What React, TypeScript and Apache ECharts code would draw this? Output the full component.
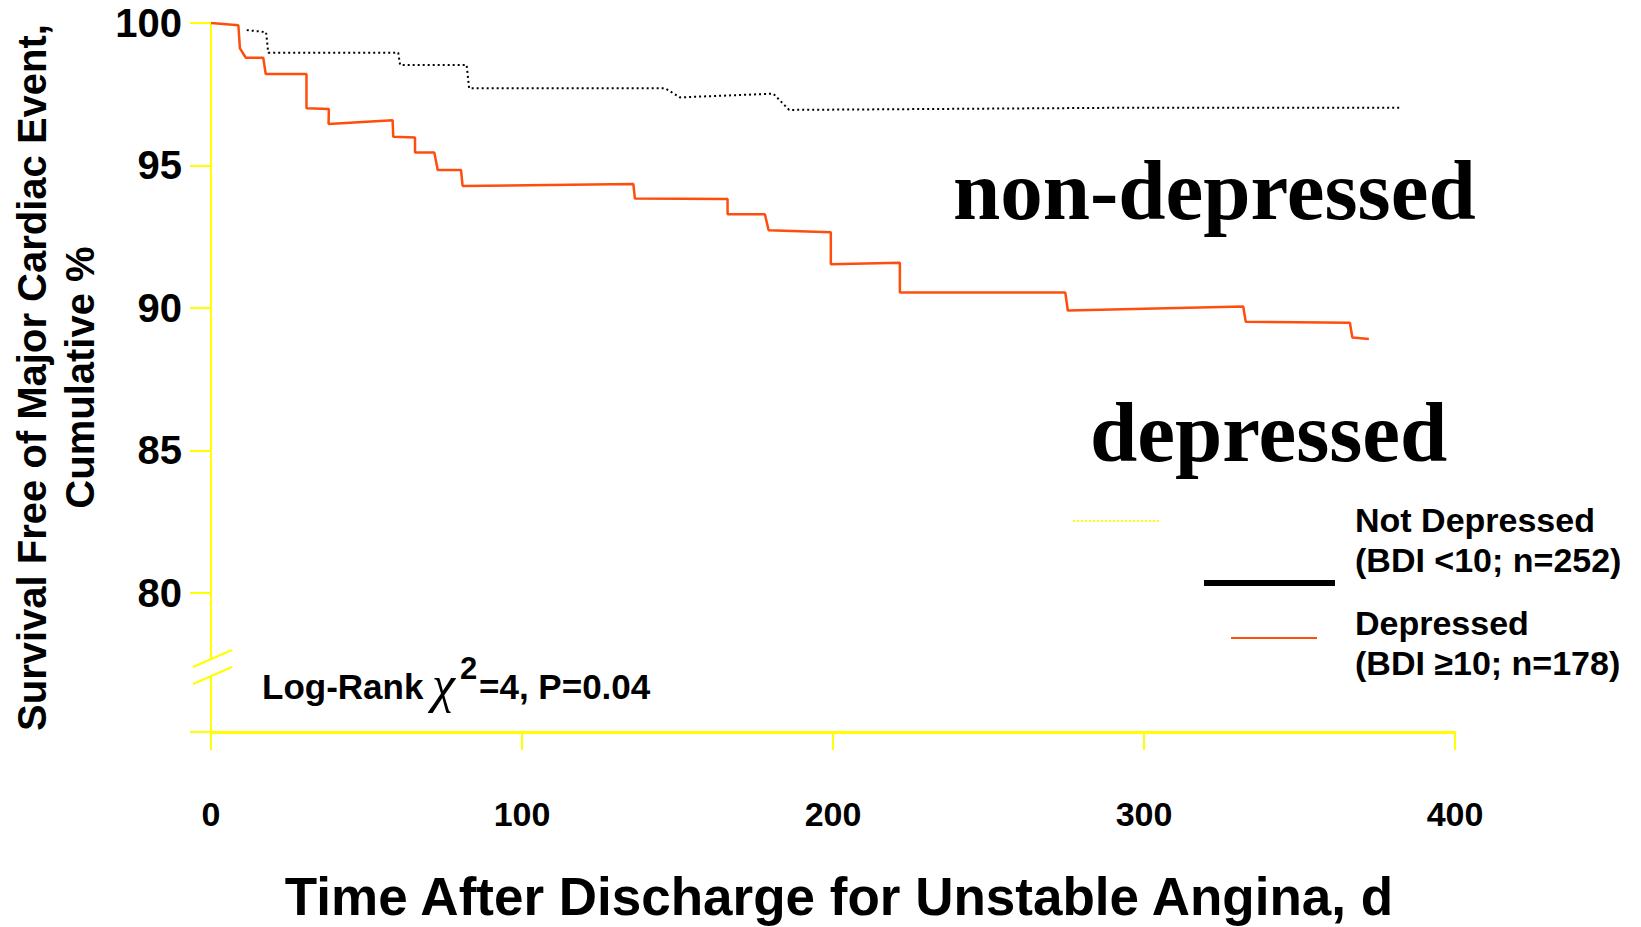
import React, { useEffect, useRef } from "react";
import * as echarts from "echarts";

// ---- data ----
const xTicks = [0, 100, 200, 300, 400];
const yTicks = [80, 85, 90, 95, 100];
const Y_MIN = 75.12; // bottom of the (broken) y axis

// Not depressed (BDI <10; n=252)
const notDepDays = [11.5, 17.7, 18.4, 60.2, 60.8, 82.2, 83.0, 146.0, 150.8, 180.8, 185.9, 298.7, 382.9];
const notDepSurv = [99.75, 99.68, 98.96, 98.96, 98.53, 98.53, 97.71, 97.71, 97.39, 97.52, 96.95, 97.03, 97.03];

// Depressed (BDI >=10; n=178)
const depDays = [0, 8.8, 9.3, 11.2, 16.8, 17.6, 30.7, 30.7, 37.9, 37.8, 58.4, 58.6, 65.6, 65.6, 71.8, 72.9, 80.4, 80.9, 135.8, 136.3, 166.1, 166.1, 178.1, 179.3, 199.3, 199.3, 221.5, 221.5, 274.7, 275.5, 331.9, 332.7, 366.2, 367.0, 372.3];
const depSurv = [100, 99.92, 99.11, 98.78, 98.78, 98.21, 98.21, 97.01, 96.98, 96.46, 96.59, 96.01, 95.98, 95.46, 95.46, 94.84, 94.84, 94.28, 94.35, 93.84, 93.82, 93.29, 93.29, 92.73, 92.66, 91.53, 91.59, 90.54, 90.54, 89.91, 90.05, 89.52, 89.48, 88.96, 88.91];

const legendLines = ["Not Depressed", "(BDI <10; n=252)", "Depressed", "(BDI \u226510; n=178)"];

// ---- styles ----
const SANS = "'Liberation Sans', Arial, Helvetica, sans-serif";
const SERIF = "'Liberation Serif', 'Times New Roman', serif";
const YELLOW = "#FFFF00";
const ORANGE = "#FF4D0D";

function sansText(text: string, x: number, y: number, size: number) {
  return {
    type: "text",
    x,
    y,
    z: 110,
    style: {
      text,
      fontSize: size,
      fontWeight: "bold",
      fontFamily: SANS,
      fill: "#000",
      align: "left",
      verticalAlign: "middle",
    },
  };
}

export default function App() {
  const ref = useRef<HTMLDivElement>(null);

  useEffect(() => {
    if (!ref.current) return;
    const chart = echarts.init(ref.current, null, { renderer: "svg" });

    const option: any = {
      animation: false,
      backgroundColor: "#ffffff",
      grid: { left: 211, right: 186, top: 23, bottom: 195, containLabel: false, outerBoundsMode: "none" },
      xAxis: {
        type: "value",
        min: xTicks[0],
        max: xTicks[xTicks.length - 1],
        interval: 100,
        name: "Time After Discharge for Unstable Angina, d",
        nameLocation: "middle",
        nameGap: 138,
        nameTextStyle: { fontSize: 53, fontWeight: "bold", color: "#000", fontFamily: SANS, padding: [0, 0, 0, 12] },
        axisLine: { show: true, onZero: false, lineStyle: { color: YELLOW, width: 3 } },
        axisTick: { show: true, length: 18, lineStyle: { color: YELLOW, width: 2 } },
        axisLabel: { fontSize: 34, fontWeight: "bold", color: "#000", margin: 65, fontFamily: SANS },
        splitLine: { show: false },
      },
      yAxis: {
        type: "value",
        min: Y_MIN,
        max: 100,
        name: "Survival Free of Major Cardiac Event,\nCumulative %",
        nameLocation: "middle",
        nameGap: 105,
        nameRotate: 90,
        nameTextStyle: { fontSize: 40, fontWeight: "bold", color: "#000", fontFamily: SANS, lineHeight: 48, align: "center" },
        axisLine: { show: true, onZero: false, lineStyle: { color: YELLOW, width: 2 } },
        axisTick: { show: true, length: 21, customValues: [Y_MIN, ...yTicks], lineStyle: { color: YELLOW, width: 2 } },
        axisLabel: { customValues: yTicks, fontSize: 40, fontWeight: "bold", color: "#000", margin: 29, fontFamily: SANS },
        splitLine: { show: false },
      },
      series: [
        {
          name: "Not Depressed",
          type: "line",
          data: notDepDays.map((d, i) => [d, notDepSurv[i]]),
          showSymbol: false,
          symbol: "none",
          lineStyle: { color: "#000", width: 2, type: [2, 3] },
          z: 3,
        },
        {
          name: "Depressed",
          type: "line",
          data: depDays.map((d, i) => [d, depSurv[i]]),
          showSymbol: false,
          symbol: "none",
          lineStyle: { color: ORANGE, width: 2.5 },
          z: 4,
        },
      ],
      graphic: [
        // y-axis break
        { type: "rect", z: 100, shape: { x: 204, y: 658, width: 14, height: 19 }, style: { fill: "#fff" } },
        { type: "line", z: 101, shape: { x1: 193, y1: 667, x2: 232, y2: 650 }, style: { stroke: YELLOW, lineWidth: 2 } },
        { type: "line", z: 101, shape: { x1: 193, y1: 684, x2: 232, y2: 667 }, style: { stroke: YELLOW, lineWidth: 2 } },
        // legend keys
        { type: "line", z: 101, shape: { x1: 1073, y1: 521, x2: 1159, y2: 521 }, style: { stroke: YELLOW, lineWidth: 2, lineDash: [2, 2] } },
        { type: "line", z: 101, shape: { x1: 1204, y1: 583, x2: 1335, y2: 583 }, style: { stroke: "#000", lineWidth: 6 } },
        { type: "line", z: 101, shape: { x1: 1231, y1: 638, x2: 1317, y2: 638 }, style: { stroke: ORANGE, lineWidth: 2 } },
        // legend texts
        sansText(legendLines[0], 1355, 520, 34),
        sansText(legendLines[1], 1355, 560, 34),
        sansText(legendLines[2], 1355, 623, 34),
        sansText(legendLines[3], 1355, 663, 34),
        // log-rank annotation
        sansText("Log-Rank", 262, 686, 35),
        {
          type: "text",
          x: 432,
          y: 684,
          z: 110,
          style: { text: "\u03C7", fontSize: 52, fontFamily: SERIF, fontStyle: "italic", fill: "#000", align: "left", verticalAlign: "middle" },
        },
        sansText("2", 460, 668, 31),
        sansText("=4, P=0.04", 479, 686, 35),
        // big group labels
        {
          type: "text",
          x: 953,
          y: 190,
          z: 110,
          style: { text: "non-depressed", fontSize: 85, fontWeight: "bold", fontFamily: SERIF, fill: "#000", align: "left", verticalAlign: "middle" },
        },
        {
          type: "text",
          x: 1090,
          y: 432,
          z: 110,
          style: { text: "depressed", fontSize: 85, fontWeight: "bold", fontFamily: SERIF, fill: "#000", align: "left", verticalAlign: "middle" },
        },
      ],
    };

    chart.setOption(option);
    return () => chart.dispose();
  }, []);

  return (
    <div
      ref={ref}
      style={{ position: "absolute", left: 0, top: 0, width: 1641, height: 927, background: "#fff" }}
    />
  );
}
